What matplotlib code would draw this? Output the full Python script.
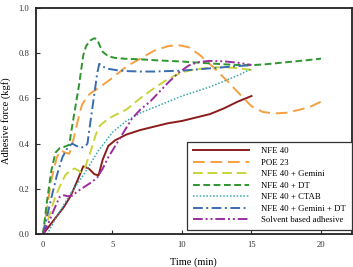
import matplotlib
matplotlib.use('Agg')

import matplotlib.pyplot as plt

plt.rcParams['font.family'] = ['Liberation Serif', 'DejaVu Serif']

# Datos (tiempo en min, fuerza en kgf)
t_nfe = [0, 0.5, 1, 1.5, 2, 2.5, 2.9, 3.3, 3.7, 4.0, 4.3, 4.7, 5.2, 6, 7, 8, 9, 10, 11, 12, 13, 14, 15]
f_nfe = [0, 0.04, 0.08, 0.12, 0.17, 0.24, 0.30, 0.29, 0.265, 0.26, 0.33, 0.39, 0.415, 0.44, 0.46, 0.475, 0.49, 0.50, 0.515, 0.53, 0.555, 0.585, 0.61]

t_poe = [0, 0.3, 0.6, 1.0, 1.3, 1.6, 1.9, 2.2, 2.5, 2.8, 3.2, 3.6, 4.0, 5.0, 6.0, 7.0, 8.0, 9.0, 9.7,
         10.5, 11.3, 12.2, 13.2, 14.2, 15.0, 15.8, 16.6, 17.5, 18.5, 19.3, 20]
f_poe = [0, 0.12, 0.24, 0.34, 0.37, 0.36, 0.355, 0.42, 0.50, 0.57, 0.61, 0.63, 0.645, 0.69, 0.74, 0.775, 0.81, 0.83, 0.835,
         0.825, 0.79, 0.74, 0.68, 0.615, 0.565, 0.54, 0.533, 0.536, 0.55, 0.565, 0.585]

t_gem = [0, 0.4, 0.8, 1.2, 1.6, 2.0, 2.3, 2.7, 3.0, 3.4, 3.8, 4.1, 4.5, 5.0, 6.0, 7.0, 8.0, 9.0, 10.0, 11.0, 12.0, 13.0, 14.0, 15.0]
f_gem = [0, 0.07, 0.15, 0.21, 0.26, 0.285, 0.29, 0.275, 0.29, 0.36, 0.44, 0.48, 0.50, 0.52, 0.55, 0.60, 0.645, 0.685, 0.715, 0.728, 0.735, 0.737, 0.733, 0.725]

t_dt = [0, 0.3, 0.6, 0.9, 1.2, 1.5, 1.9, 2.0, 2.3, 2.6, 2.9, 3.1, 3.4, 3.7, 3.9, 4.1, 4.3, 4.7, 5.2, 6, 7, 8, 9, 10,
        11, 12, 13, 14, 15, 16, 17, 18, 19, 20]
f_dt = [0, 0.15, 0.28, 0.36, 0.38, 0.385, 0.395, 0.44, 0.55, 0.66, 0.79, 0.83, 0.855, 0.865, 0.86, 0.83, 0.805, 0.785, 0.778, 0.774, 0.772, 0.768, 0.765, 0.762,
        0.758, 0.754, 0.75, 0.747, 0.746, 0.75, 0.756, 0.762, 0.768, 0.775]

t_ctab = [0.3, 1, 2, 3, 4, 5, 6, 7, 8, 9, 10, 11, 12, 13, 14, 15]
f_ctab = [0, 0.08, 0.18, 0.27, 0.37, 0.45, 0.50, 0.535, 0.56, 0.585, 0.61, 0.63, 0.65, 0.675, 0.70, 0.73]

t_gdt = [0, 0.3, 0.6, 1.0, 1.4, 1.8, 2.1, 2.4, 2.7, 3.0, 3.2, 3.4, 3.7, 3.9, 4.05, 4.3, 4.7, 5.3, 6, 7, 8, 9, 10, 11, 12, 13, 14, 15]
f_gdt = [0, 0.08, 0.16, 0.26, 0.34, 0.385, 0.40, 0.39, 0.383, 0.385, 0.40, 0.49, 0.62, 0.71, 0.752, 0.74, 0.73, 0.724, 0.72, 0.718, 0.718, 0.72, 0.722, 0.727, 0.732, 0.737, 0.742, 0.746]

t_sol = [0, 0.4, 0.8, 1.2, 1.5, 1.8, 2.1, 2.5, 3.0, 3.5, 3.9, 4.3, 4.7, 5.2, 5.8, 6.4, 7.0, 7.7, 8.4, 9.1, 9.8, 10.5, 11.2, 12, 13, 14, 15]
f_sol = [0, 0.05, 0.11, 0.165, 0.172, 0.168, 0.17, 0.19, 0.21, 0.23, 0.25, 0.29, 0.34, 0.39, 0.45, 0.51, 0.55, 0.585, 0.63, 0.675, 0.715, 0.745, 0.76, 0.765, 0.763, 0.757, 0.747]

fig = plt.figure(figsize=(3.53, 2.67), dpi=100)
ax = fig.add_axes([0.102, 0.1225, 0.894, 0.849])

ax.plot(t_nfe, f_nfe, color='#8c1c1c', lw=1.4, label='NFE 40')
ax.plot(t_poe, f_poe, color='#f5a040', lw=1.4, dashes=(6, 3), label='POE 23')
ax.plot(t_gem, f_gem, color='#c8d43a', lw=1.4, dashes=(5, 2.5), label='NFE 40 + Gemini')
ax.plot(t_dt, f_dt, color='#2e962e', lw=1.4, dashes=(3.5, 1.8), label='NFE 40 + DT')
ax.plot(t_ctab, f_ctab, color='#3aa6b0', lw=1.1, dashes=(1, 1.2), label='NFE 40 + CTAB')
ax.plot(t_gdt, f_gdt, color='#3a6cb0', lw=1.4, dashes=(5, 1.8, 1, 1.8), label='NFE 40 + Gemini + DT')
ax.plot(t_sol, f_sol, color='#9a2ea0', lw=1.4, dashes=(5, 1.5, 1, 1.5, 1, 1.5), label='Solvent based adhesive')

ax.set_xlim(-0.5, 22.2)
ax.set_ylim(0, 1.0)
ax.set_xticks([0, 5, 10, 15, 20])
ax.set_yticks([0.0, 0.2, 0.4, 0.6, 0.8, 1.0])
ax.set_yticklabels(['0.0', '0.2', '0.4', '0.6', '0.8', '1.0'])
ax.tick_params(direction='in', labelsize=6.2, length=3, width=0.8, colors='#333333', pad=5)
for s in ax.spines.values():
    s.set_linewidth(1.3)
    s.set_color('#222222')

ax.set_xlabel('Time (min)', fontsize=7.5, labelpad=6)
ax.set_ylabel('Adhesive force (kgf)', fontsize=7.5, labelpad=5)

leg = ax.legend(loc='lower right', bbox_to_anchor=(1.0, 0.02), borderaxespad=0,
                fontsize=6.3, handlelength=6.4, handletextpad=1.4, labelspacing=0.38,
                fancybox=False, edgecolor='#333333', framealpha=1, borderpad=0.65)
leg.get_frame().set_linewidth(0.9)

fig.savefig('out.png', dpi=100)
